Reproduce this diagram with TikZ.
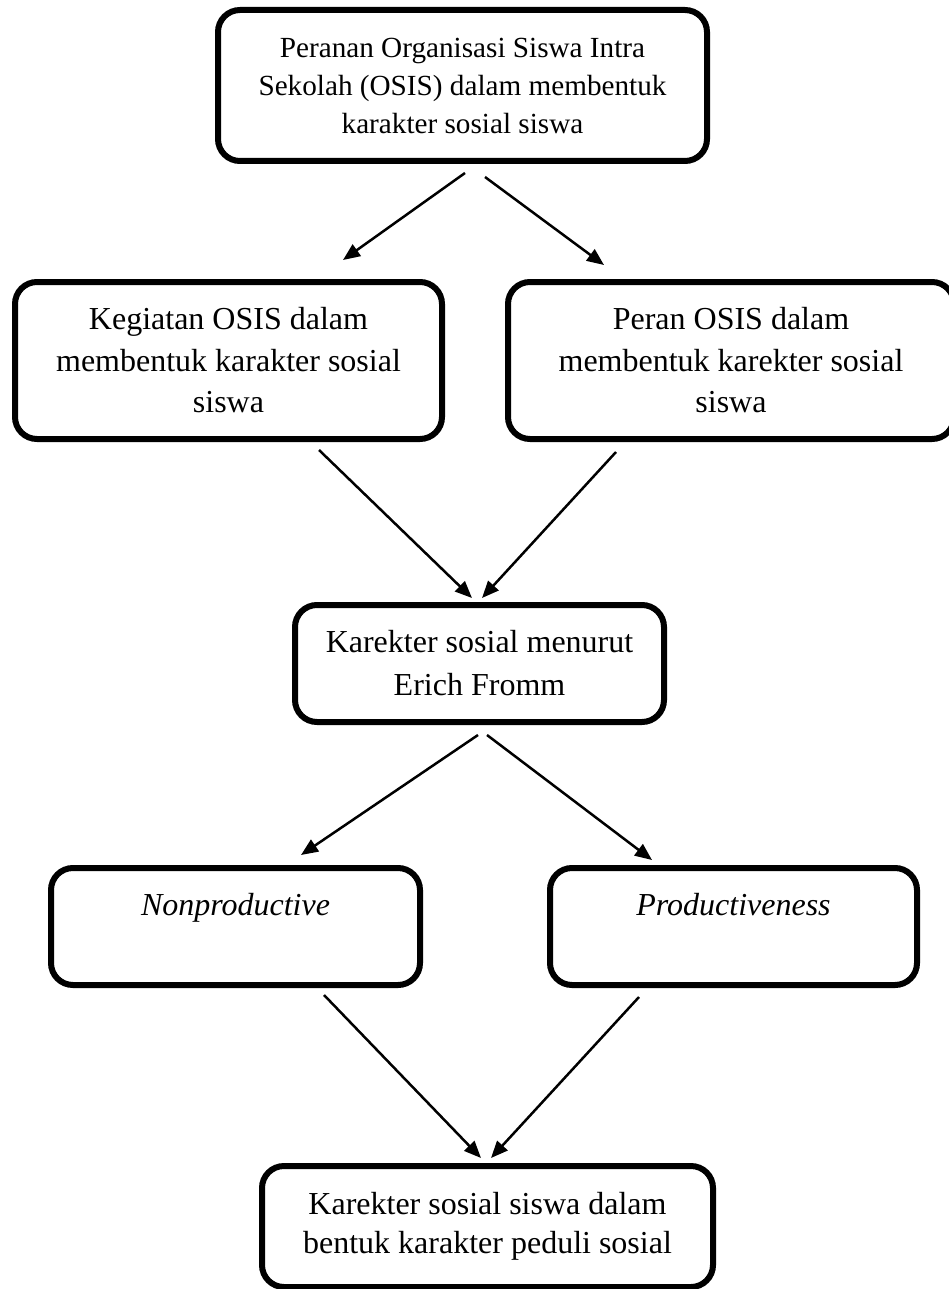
\documentclass[tikz,border=0pt]{standalone}
\usepackage{fontspec}
\setmainfont{Liberation Serif}
\usetikzlibrary{arrows.meta}

\tikzset{
  box/.style={draw, line width=6pt, rounded corners=22pt, align=center,
              inner sep=0pt, fill=white},
  arr/.style={line width=2.5pt, -{Triangle[length=17pt,width=14pt]}},
  bigtext/.style={font=\fontsize{32}{41.5}\selectfont},
}

\begin{document}
\begin{tikzpicture}[x=1pt,y=-1pt]
\useasboundingbox (0,0) rectangle (949,1289);

% boxes
\node[box, minimum width=489pt, minimum height=151pt,
      font=\fontsize{29.2}{38}\selectfont] (top) at (462.5,85.5)
  {Peranan Organisasi Siswa Intra\\Sekolah (OSIS) dalam membentuk\\karakter sosial siswa};

\node[box, bigtext, minimum width=427pt, minimum height=157pt] (keg) at (228.5,360.5)
  {Kegiatan OSIS dalam\\membentuk karakter sosial\\siswa};

\node[box, bigtext, minimum width=446pt, minimum height=157pt] (per) at (731,360.5)
  {Peran OSIS dalam\\membentuk karekter sosial\\siswa};

\node[box, font=\fontsize{32}{43}\selectfont, minimum width=369pt, minimum height=117pt] (fromm) at (479.5,663.5)
  {Karekter sosial menurut\\Erich Fromm};

\node[box, font=\fontsize{32}{45}\selectfont, minimum width=369pt, minimum height=117pt] (nonp) at (235.5,926.5)
  {\textit{Nonproductive}\\\phantom{N}};

\node[box, font=\fontsize{32}{45}\selectfont, minimum width=367pt, minimum height=117pt] (prod) at (733.5,926.5)
  {\textit{Productiveness}\\\phantom{N}};

\node[box, font=\fontsize{32}{39}\selectfont, minimum width=451pt, minimum height=121pt] (peduli) at (487.5,1226.5)
  {Karekter sosial siswa dalam\\bentuk karakter peduli sosial};

% connectors
\draw[arr] ([shift={(2.5,9)}]top.south)   -- ([shift={(114.5,-19)}]keg.north);
\draw[arr] ([shift={(22.5,13)}]top.south)  -- ([shift={(-127,-14)}]per.north);
\draw[arr] ([shift={(90.5,8)}]keg.south)   -- ([shift={(-7.5,-4)}]fromm.north);
\draw[arr] ([shift={(-115,10)}]per.south)  -- ([shift={(2.5,-4)}]fromm.north);
\draw[arr] ([shift={(-1.5,10)}]fromm.south) -- ([shift={(65.5,-10)}]nonp.north);
\draw[arr] ([shift={(7.5,10)}]fromm.south)  -- ([shift={(-81.5,-5)}]prod.north);
\draw[arr] ([shift={(88.5,7)}]nonp.south)  -- ([shift={(-6.5,-5)}]peduli.north);
\draw[arr] ([shift={(-94.5,9)}]prod.south) -- ([shift={(3.5,-5)}]peduli.north);
\end{tikzpicture}
\end{document}
